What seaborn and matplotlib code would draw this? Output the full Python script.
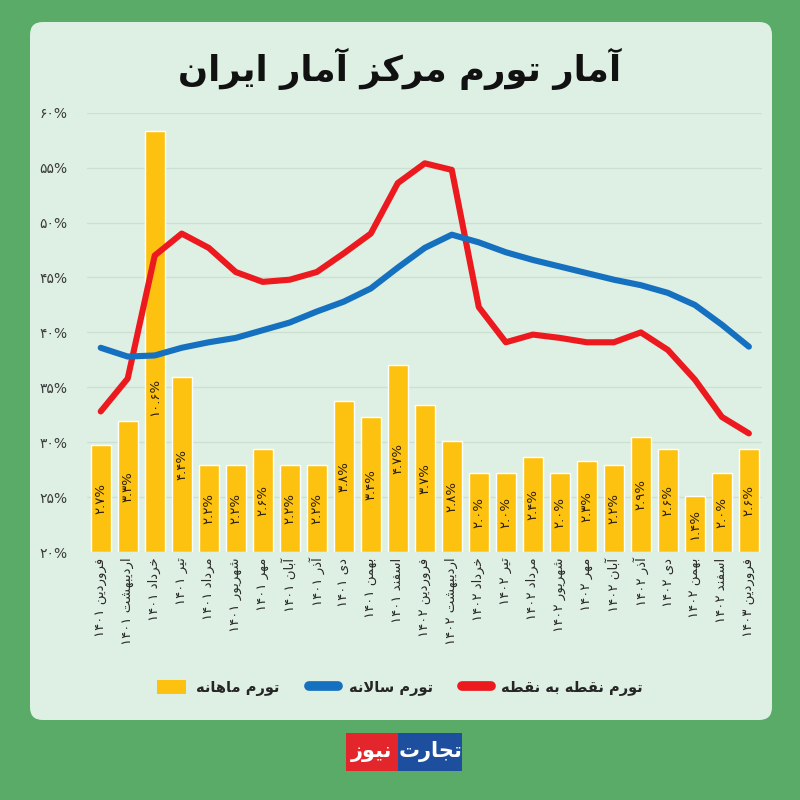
import re
import numpy as np
import pandas as pd
import matplotlib
matplotlib.use("Agg")
import matplotlib.pyplot as plt
import seaborn as sns
from matplotlib.patches import FancyBboxPatch, Patch, Rectangle
from matplotlib.lines import Line2D

# ---------------- data ----------------
months = ["فروردین ۱۴۰۱", "اردیبهشت ۱۴۰۱", "خرداد ۱۴۰۱", "تیر ۱۴۰۱", "مرداد ۱۴۰۱",
          "شهریور ۱۴۰۱", "مهر ۱۴۰۱", "آبان ۱۴۰۱", "آذر ۱۴۰۱", "دی ۱۴۰۱", "بهمن ۱۴۰۱",
          "اسفند ۱۴۰۱", "فروردین ۱۴۰۲", "اردیبهشت ۱۴۰۲", "خرداد ۱۴۰۲", "تیر ۱۴۰۲",
          "مرداد ۱۴۰۲", "شهریور ۱۴۰۲", "مهر ۱۴۰۲", "آبان ۱۴۰۲", "آذر ۱۴۰۲", "دی ۱۴۰۲",
          "بهمن ۱۴۰۲", "اسفند ۱۴۰۲", "فروردین ۱۴۰۳"]
monthly = [2.7, 3.3, 10.6, 4.4, 2.2, 2.2, 2.6, 2.2, 2.2, 3.8, 3.4, 4.7, 3.7,
           2.8, 2.0, 2.0, 2.4, 2.0, 2.3, 2.2, 2.9, 2.6, 1.4, 2.0, 2.6]
annual = [38.6, 37.8, 37.9, 38.6, 39.1, 39.5, 40.2, 40.9, 41.9, 42.8, 44.0, 45.9, 47.7,
          48.9, 48.2, 47.3, 46.6, 46.0, 45.4, 44.8, 44.3, 43.6, 42.5, 40.7, 38.7]
point = [32.8, 35.8, 47.0, 49.0, 47.7, 45.5, 44.6, 44.8, 45.5, 47.2, 49.0, 53.6, 55.4,
         54.8, 42.3, 39.1, 39.8, 39.5, 39.1, 39.1, 40.0, 38.4, 35.7, 32.3, 30.8]
pct_ticks = [20, 25, 30, 35, 40, 45, 50, 55, 60]

title = "آمار تورم مرکز آمار ایران"
leg_monthly = "تورم ماهانه"
leg_annual = "تورم سالانه"
leg_point = "تورم نقطه به نقطه"
brand1 = "تجارت"
brand2 = "نیوز"

# ---------------- minimal Persian shaping + bidi ----------------
FORMS = {  # isolated, final, initial, medial
    '\u0627': ('\uFE8D', '\uFE8E', None, None),
    '\u0622': ('\uFE81', '\uFE82', None, None),
    '\u0628': ('\uFE8F', '\uFE90', '\uFE91', '\uFE92'),
    '\u062A': ('\uFE95', '\uFE96', '\uFE97', '\uFE98'),
    '\u062C': ('\uFE9D', '\uFE9E', '\uFE9F', '\uFEA0'),
    '\u062E': ('\uFEA5', '\uFEA6', '\uFEA7', '\uFEA8'),
    '\u062F': ('\uFEA9', '\uFEAA', None, None),
    '\u0630': ('\uFEAB', '\uFEAC', None, None),
    '\u0631': ('\uFEAD', '\uFEAE', None, None),
    '\u0632': ('\uFEAF', '\uFEB0', None, None),
    '\u0633': ('\uFEB1', '\uFEB2', '\uFEB3', '\uFEB4'),
    '\u0634': ('\uFEB5', '\uFEB6', '\uFEB7', '\uFEB8'),
    '\u0637': ('\uFEC1', '\uFEC2', '\uFEC3', '\uFEC4'),
    '\u0641': ('\uFED1', '\uFED2', '\uFED3', '\uFED4'),
    '\u0642': ('\uFED5', '\uFED6', '\uFED7', '\uFED8'),
    '\u0644': ('\uFEDD', '\uFEDE', '\uFEDF', '\uFEE0'),
    '\u0645': ('\uFEE1', '\uFEE2', '\uFEE3', '\uFEE4'),
    '\u0646': ('\uFEE5', '\uFEE6', '\uFEE7', '\uFEE8'),
    '\u0647': ('\uFEE9', '\uFEEA', '\uFEEB', '\uFEEC'),
    '\u0648': ('\uFEED', '\uFEEE', None, None),
    '\u06A9': ('\uFB8E', '\uFB8F', '\uFB90', '\uFB91'),
    '\u06CC': ('\uFBFC', '\uFBFD', '\uFBFE', '\uFBFF'),
}


def _dual(c):
    return c in FORMS and FORMS[c][2] is not None


def shape(s):
    out = []
    i = 0
    n = len(s)
    while i < n:
        c = s[i]
        if c not in FORMS:
            out.append(c)
            i += 1
            continue
        prev = s[i - 1] if i > 0 else ''
        jp = _dual(prev)
        if c == '\u0644' and i + 1 < n and s[i + 1] in ('\u0627', '\u0622'):
            out.append('\uFEFC' if jp else '\uFEFB')
            i += 2
            continue
        nxt = s[i + 1] if i + 1 < n else ''
        jn = _dual(c) and nxt in FORMS
        iso, fin, ini, med = FORMS[c]
        if jp and jn:
            out.append(med)
        elif jp:
            out.append(fin)
        elif jn:
            out.append(ini)
        else:
            out.append(iso)
        i += 1
    return ''.join(out)


LTR = r'[\u06F0-\u06F90-9.%]+'


def fa(s):
    runs = re.findall(LTR + r'|[^\u06F0-\u06F90-9.%]+', s)
    res = []
    for r in reversed(runs):
        if re.fullmatch(LTR, r):
            res.append(r)
        else:
            res.append(shape(r)[::-1])
    return ''.join(res)


def fa_num(v, dec=1):
    digits = '۰۱۲۳۴۵۶۷۸۹'
    txt = f"{v:.{dec}f}" if dec else f"{int(v)}"
    return ''.join(digits[int(ch)] if ch.isdigit() else ch for ch in txt) + '%'


# ---------------- style ----------------
sns.set_theme(style="white")
plt.rcParams['font.family'] = ['DejaVu Sans']

BG_OUT = '#5aab68'
PANEL = '#def0e3'
YELLOW = '#fdc20f'
BLUE = '#1570c0'
RED = '#ec1a1f'

fig = plt.figure(figsize=(8, 8), dpi=100)
fig.patch.set_facecolor(BG_OUT)
panel = FancyBboxPatch((0.0375, 0.1), 0.9275, 0.8725,
                       boxstyle="round,pad=0,rounding_size=0.016",
                       transform=fig.transFigure, facecolor=PANEL,
                       edgecolor='none', zorder=-5)
fig.patches.append(panel)

ax = fig.add_axes([0.109, 0.31, 0.844, 0.549])
ax.set_facecolor('none')

df = pd.DataFrame({'month': [fa(m) for m in months], 'monthly': monthly,
                   'annual': annual, 'point': point, 'idx': np.arange(len(months))})

# bars (monthly inflation) on the primary axis with their own scale
bar_top = 11.06
sns.barplot(data=df, x='month', y='monthly', color=YELLOW, saturation=1,
            width=0.74, ax=ax, zorder=2)
ax.set_ylim(0, bar_top)
ax.set_xlim(-0.5, len(months) - 0.5)
ax.set_yticks(np.linspace(0, bar_top, len(pct_ticks)))
ax.set_yticklabels([])
ax.tick_params(axis='y', length=0)
ax.yaxis.grid(True, color='#cbe0d0', linewidth=0.9, zorder=0)
ax.set_axisbelow(True)
ax.set_xlabel('')
ax.set_ylabel('')
for s in ax.spines.values():
    s.set_visible(False)
ax.tick_params(axis='x', length=0, pad=4, labelsize=9.5, labelcolor='#2a2a2a')
for lab in ax.get_xticklabels():
    lab.set_rotation(90)
    lab.set_va('top')
    lab.set_ha('center')

for i, v in enumerate(monthly):
    ypos = min(v / 2.0, 3.9)
    ax.text(i, ypos, fa_num(v), rotation=90, ha='center', va='center',
            fontsize=9.5, color='#2b1d0a', zorder=3)

# lines on twin axis with percent scale
ax2 = ax.twinx()
ax2.set_facecolor('none')
sns.lineplot(data=df, x='idx', y='point', color=RED, linewidth=4.4, ax=ax2,
             solid_capstyle='round', solid_joinstyle='round')
sns.lineplot(data=df, x='idx', y='annual', color=BLUE, linewidth=4.4, ax=ax2,
             solid_capstyle='round', solid_joinstyle='round')
ax2.set_ylim(20, 60)
ax2.set_xlim(-0.5, len(months) - 0.5)
ax2.yaxis.tick_left()
ax2.set_yticks(pct_ticks)
ax2.set_yticklabels([fa_num(p, 0) for p in pct_ticks])
ax2.tick_params(axis='y', length=0, pad=14, labelsize=10, labelcolor='#3a3a3a')
ax2.set_xlabel('')
ax2.set_ylabel('')
for s in ax2.spines.values():
    s.set_visible(False)

# title
fig.text(0.5, 0.914, fa(title), ha='center', va='center', fontsize=25.5,
         fontweight='bold', color='#111111')

# legend
handles = [Patch(facecolor=YELLOW, edgecolor='none'),
           Line2D([0], [0], color=BLUE, linewidth=7, solid_capstyle='round'),
           Line2D([0], [0], color=RED, linewidth=7, solid_capstyle='round')]
labels = [fa(leg_monthly), fa(leg_annual), fa(leg_point)]
fig.legend(handles, labels, loc='center', bbox_to_anchor=(0.5, 0.14), ncol=3,
           frameon=False, prop={'size': 10.5, 'weight': 'bold'},
           handlelength=2.0, handleheight=1.0, columnspacing=2.0, handletextpad=0.7)

# brand
fig.patches.append(Rectangle((0.4975, 0.036), 0.08, 0.048, transform=fig.transFigure,
                             facecolor='#1d4f9e', edgecolor='none', zorder=1))
fig.patches.append(Rectangle((0.432, 0.036), 0.0655, 0.048, transform=fig.transFigure,
                             facecolor='#e2262b', edgecolor='none', zorder=1))
fig.text(0.5375, 0.060, fa(brand1), ha='center', va='center', fontsize=15,
         fontweight='bold', color='white')
fig.text(0.465, 0.060, fa(brand2), ha='center', va='center', fontsize=15,
         fontweight='bold', color='white')

fig.savefig('out.png', dpi=100, facecolor=fig.get_facecolor())
